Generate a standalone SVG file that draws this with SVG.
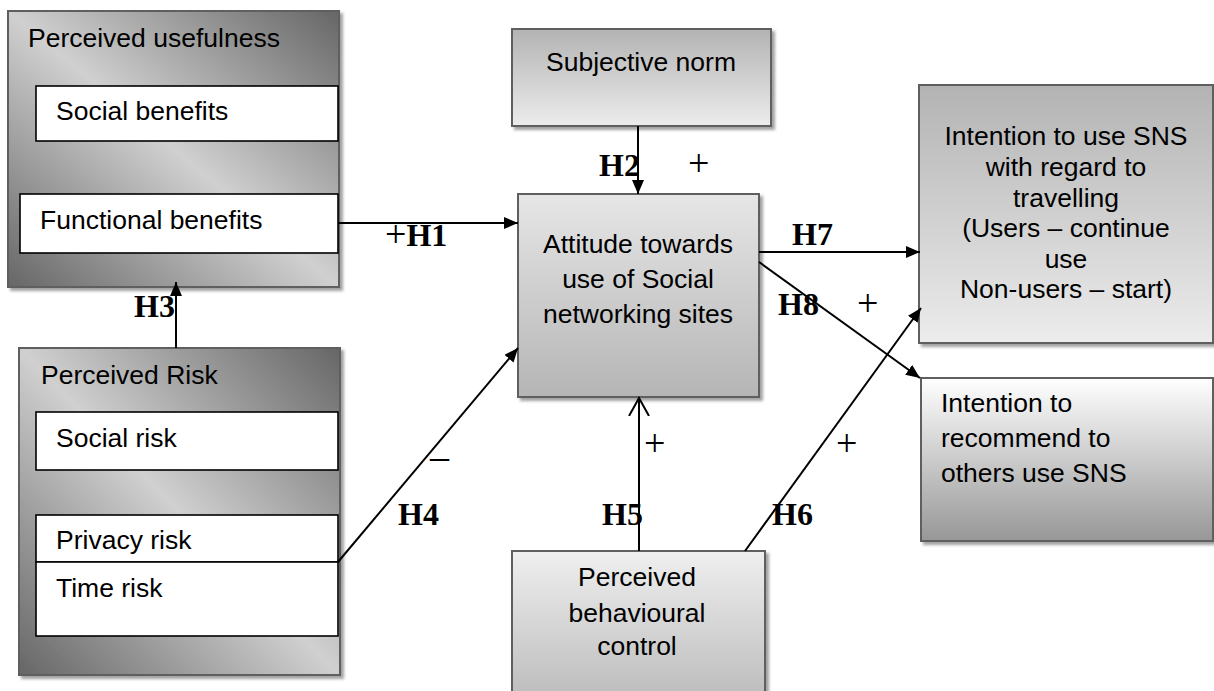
<svg xmlns="http://www.w3.org/2000/svg" width="1214" height="691" viewBox="0 0 1214 691">
<style>
.box{stroke:#5e5e5e;stroke-width:2}
.inner{fill:#fff;stroke:#000;stroke-width:1.6}
.t{font-family:"Liberation Sans",Arial,sans-serif;font-size:26.5px;fill:#000}
.c{text-anchor:middle}
.h{font-family:"Liberation Serif","Times New Roman",serif;font-size:32px;font-weight:bold;fill:#000}
.p{font-family:"Liberation Serif","Times New Roman",serif;font-size:38px;font-weight:normal;fill:#000}
.ln{stroke:#000;stroke-width:2;fill:none}
</style>
<defs>
<filter id="sh" x="-5%" y="-5%" width="115%" height="115%">
<feDropShadow dx="3" dy="3" stdDeviation="1.5" flood-color="#8a8a8a" flood-opacity="0.8"/>
</filter>
<linearGradient id="gDiag" x1="1" y1="0" x2="0" y2="1">
<stop offset="0" stop-color="#666"/>
<stop offset="0.5" stop-color="#d0d0d0"/>
<stop offset="1" stop-color="#666"/>
</linearGradient>
<linearGradient id="gDarkTop" x1="0" y1="0" x2="0" y2="1">
<stop offset="0" stop-color="#b3b3b3"/>
<stop offset="1" stop-color="#ececec"/>
</linearGradient>
<linearGradient id="gLightTop" x1="0" y1="0" x2="0" y2="1">
<stop offset="0" stop-color="#e6e6e6"/>
<stop offset="1" stop-color="#b5b5b5"/>
</linearGradient>
<linearGradient id="gRec" x1="0" y1="0" x2="0" y2="1">
<stop offset="0" stop-color="#ffffff"/>
<stop offset="1" stop-color="#979797"/>
</linearGradient>
<linearGradient id="gPbc" x1="0" y1="0" x2="0" y2="1">
<stop offset="0" stop-color="#efefef"/>
<stop offset="1" stop-color="#b8b8b8"/>
</linearGradient>
<marker id="ah" viewBox="0 0 14 12" refX="14" refY="6" markerWidth="14" markerHeight="12" markerUnits="userSpaceOnUse" orient="auto">
<path d="M0,0 L14,6 L0,12 Z" fill="#000"/>
</marker>
<marker id="ao" viewBox="0 0 20 22" refX="18" refY="11" markerWidth="20" markerHeight="22" markerUnits="userSpaceOnUse" orient="auto">
<path d="M0,1 L18,11 L0,21" fill="none" stroke="#000" stroke-width="2"/>
</marker>
</defs>

<g id="perceived-usefulness">
<rect class="box" x="8" y="11" width="331" height="276" fill="url(#gDiag)" filter="url(#sh)"/>
<text class="t" x="28" y="47">Perceived usefulness</text>
<rect class="inner" x="36" y="86" width="302" height="55"/>
<text class="t" x="56" y="120">Social benefits</text>
<rect class="inner" x="20" y="194" width="318" height="59"/>
<text class="t" x="40" y="229">Functional benefits</text>
</g>

<g id="perceived-risk">
<rect class="box" x="19" y="348" width="321" height="327" fill="url(#gDiag)" filter="url(#sh)"/>
<text class="t" x="41" y="384">Perceived Risk</text>
<rect class="inner" x="36" y="412" width="302" height="58"/>
<text class="t" x="56" y="447">Social risk</text>
<rect class="inner" x="36" y="515" width="302" height="47"/>
<text class="t" x="56" y="549">Privacy risk</text>
<rect class="inner" x="36" y="562" width="302" height="74"/>
<text class="t" x="56" y="597">Time risk</text>
</g>

<g id="subjective-norm">
<rect class="box" x="512" y="29" width="259" height="97" fill="url(#gDarkTop)" filter="url(#sh)"/>
<text class="t c" x="641" y="71">Subjective norm</text>
</g>

<g id="attitude">
<rect class="box" x="518" y="194" width="241" height="203" fill="url(#gLightTop)" filter="url(#sh)"/>
<text class="t c" x="638" y="253">Attitude towards</text>
<text class="t c" x="638" y="288">use of Social</text>
<text class="t c" x="638" y="323">networking sites</text>
</g>

<g id="intention-use">
<rect class="box" x="919" y="85" width="294" height="258" fill="url(#gDarkTop)" filter="url(#sh)"/>
<text class="t c" x="1066" y="145">Intention to use SNS</text>
<text class="t c" x="1066" y="176">with regard to</text>
<text class="t c" x="1066" y="207">travelling</text>
<text class="t c" x="1066" y="237">(Users – continue</text>
<text class="t c" x="1066" y="268">use</text>
<text class="t c" x="1066" y="298">Non-users – start)</text>
</g>

<g id="intention-recommend">
<rect class="box" x="921" y="378" width="292" height="163" fill="url(#gRec)" filter="url(#sh)"/>
<text class="t" x="941" y="412">Intention to</text>
<text class="t" x="941" y="447">recommend to</text>
<text class="t" x="941" y="482">others use SNS</text>
</g>

<g id="perceived-behavioural-control">
<rect class="box" x="512" y="551" width="253" height="160" fill="url(#gPbc)" filter="url(#sh)"/>
<text class="t c" x="637" y="586">Perceived</text>
<text class="t c" x="637" y="622">behavioural</text>
<text class="t c" x="637" y="655">control</text>
</g>

<g id="connectors">
<line class="ln" x1="338" y1="223" x2="518" y2="223" marker-end="url(#ah)"/>
<line class="ln" x1="638" y1="126" x2="638" y2="194" marker-end="url(#ah)"/>
<line class="ln" x1="176" y1="348" x2="176" y2="282" marker-end="url(#ah)"/>
<line class="ln" x1="338" y1="562" x2="518" y2="348" marker-end="url(#ah)"/>
<line class="ln" x1="639" y1="551" x2="639" y2="398" marker-end="url(#ao)"/>
<line class="ln" x1="745" y1="551" x2="921" y2="308" marker-end="url(#ah)"/>
<line class="ln" x1="759" y1="252" x2="920" y2="252" marker-end="url(#ah)"/>
<line class="ln" x1="759" y1="262" x2="920" y2="378" marker-end="url(#ah)"/>
</g>

<g id="labels">
<text class="p" x="385" y="247">+<tspan class="h" y="246">H1</tspan></text>
<text class="h" x="599" y="176">H2</text>
<text class="p" x="688" y="176">+</text>
<text class="h" x="134" y="317">H3</text>
<text class="p" x="430" y="469">–</text>
<text class="h" x="398" y="525">H4</text>
<text class="p" x="644" y="456">+</text>
<text class="h" x="602" y="525">H5</text>
<text class="p" x="836" y="456">+</text>
<text class="h" x="772" y="525">H6</text>
<text class="h" x="792" y="245">H7</text>
<text class="h" x="778" y="315">H8</text>
<text class="p" x="857" y="316">+</text>
</g>
</svg>
